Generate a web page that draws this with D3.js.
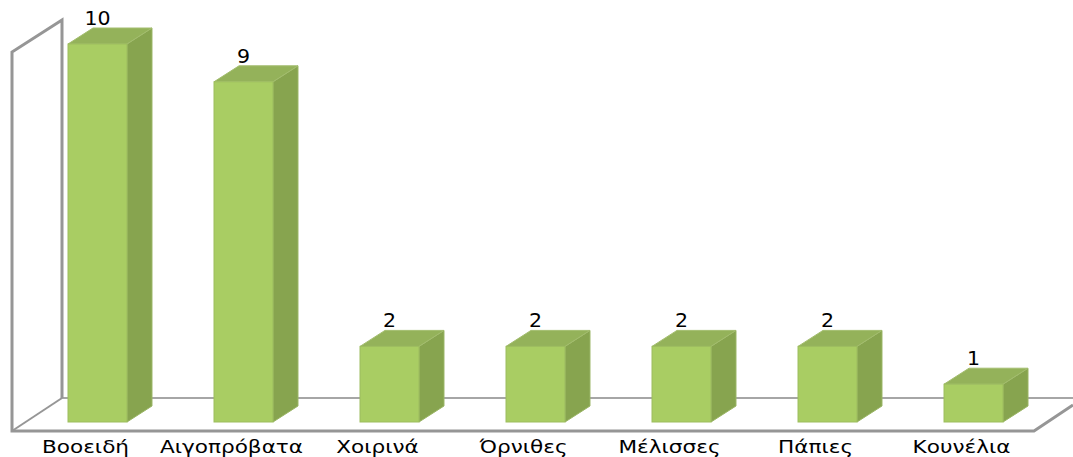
<!DOCTYPE html>
<html><head><meta charset="utf-8">
<script src="https://cdn.jsdelivr.net/npm/d3@7/dist/d3.min.js"></script>
<style>html,body{margin:0;padding:0;background:#fff}svg{display:block}
text{font-family:"DejaVu Sans",sans-serif;fill:#000}</style></head>
<body><svg id="c" width="1073" height="457"></svg>
<script>
const categories=["Βοοειδή","Αιγοπρόβατα","Χοιρινά","Όρνιθες","Μέλισσες","Πάπιες","Κουνέλια"];
const values=[10,9,2,2,2,2,1];
const svg=d3.select("#c");
const depthX=25,depthY=16;
const x=d3.scaleBand().domain(categories).range([68,1003]).paddingInner(0.596).paddingOuter(0);
const y=d3.scaleLinear().domain([0,10]).range([422,44]);
const wallC="#969696";
const line=d3.line();
svg.append("path").attr("d",line([[62,398],[1073,398]])).attr("fill","none").attr("stroke","#a6a6a6").attr("stroke-width",2);
svg.append("path").attr("d",line([[62,398],[62,20],[12,52],[12,431],[1034,431],[1073,405]])).attr("fill","none").attr("stroke",wallC).attr("stroke-width",3).attr("stroke-linejoin","miter");
svg.append("path").attr("d",line([[12,431],[62,398]])).attr("fill","none").attr("stroke",wallC).attr("stroke-width",2);
const g=svg.selectAll("g.bar").data(categories.map((c,i)=>({c,v:values[i]}))).join("g").attr("class","bar");
const edge=a=>a.attr("stroke-width",1).attr("stroke-linejoin","round");
g.append("path").attr("fill","#87a44f").attr("stroke","#9ab565").call(edge).attr("d",d=>{const r=x(d.c)+x.bandwidth(),t=y(d.v),b=y(0);
  return line([[r,t],[r+depthX,t-depthY],[r+depthX,b-depthY],[r,b]])+"Z";});
g.append("path").attr("fill","#94b25a").attr("stroke","#a3bd6e").call(edge).attr("d",d=>{const l=x(d.c),r=l+x.bandwidth(),t=y(d.v);
  return line([[l,t],[l+depthX,t-depthY],[r+depthX,t-depthY],[r,t]])+"Z";});
g.append("rect").attr("fill","#a9cd63").attr("stroke","#9dbd5f").attr("stroke-width",1)
  .attr("x",d=>x(d.c)).attr("y",d=>y(d.v)).attr("width",x.bandwidth()).attr("height",d=>y(0)-y(d.v));
g.append("text").attr("text-anchor","middle").attr("font-size",19)
  .attr("transform",d=>`translate(${x(d.c)+x.bandwidth()/2},${y(d.v)-19}) scale(1.08,1)`).text(d=>d.v);
const ax=svg.append("g").attr("transform","translate(-12,431)").call(d3.axisBottom(x).tickSize(0).tickPadding(9));
ax.select(".domain").remove();
ax.selectAll("text").attr("font-size",18).style("font-family",'"DejaVu Sans",sans-serif').attr("fill","#000").attr("transform","scale(1.2,1)");
</script></body></html>
